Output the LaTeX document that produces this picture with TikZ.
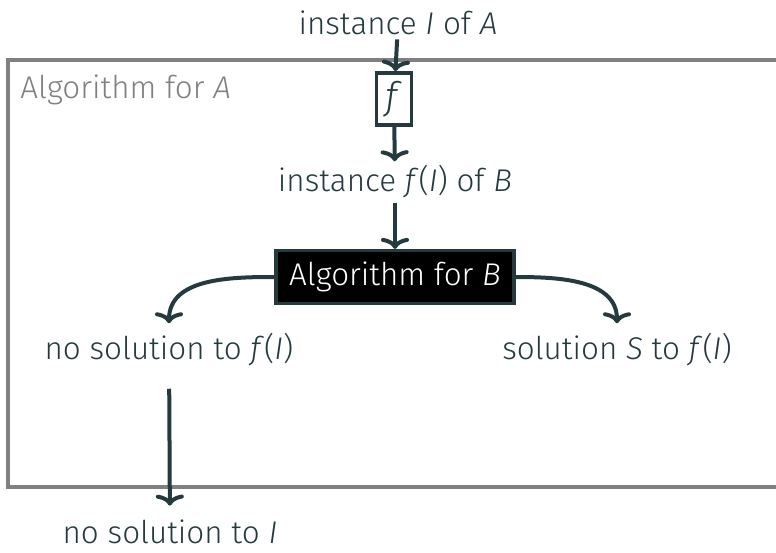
\documentclass[tikz,border=0pt]{standalone}
\usepackage{fontspec}
\setmainfont{Fira Sans}[UprightFont={* Light}, ItalicFont={* Light Italic}]
\usetikzlibrary{arrows.meta, positioning}
\definecolor{inkslate}{RGB}{36,58,63}
\definecolor{framegray}{RGB}{128,128,128}
\tikzset{
  lbl/.style={text=inkslate, font=\fontsize{15.7}{18}\selectfont, inner sep=2pt},
  fbox/.style={draw=inkslate, line width=1.8pt, text=inkslate,
    minimum width=17.5pt, minimum height=26pt, inner sep=0pt,
    font=\fontsize{19}{21}\selectfont},
  algbox/.style={draw=inkslate, line width=1.6pt, fill=black, text=white,
    minimum width=119pt, minimum height=26.5pt, inner sep=0pt,
    font=\fontsize{15.7}{18}\selectfont},
  flow/.style={-{To[length=5.5pt, width=14pt]}, line width=2pt, inkslate},
}

\begin{document}
\begin{tikzpicture}[x=0.5pt, y=-0.5pt]
\useasboundingbox (0,0) rectangle (776,552);
\clip (0,0) rectangle (776,552);

% outer frame
\draw[framegray, line width=2pt] (790,60) -- (8,60) -- (8,487) -- (790,487);
\node[text=framegray, font=\fontsize{15.7}{18}\selectfont, anchor=west, inner sep=0pt]
  (algA) at (20,90) {Algorithm for \textit{A}};

% nodes
\node[lbl] (inst) at (398,23) {instance \textit{I} of \textit{A}};
\node[fbox] (f) at (394,99) {\textit{f}};
\node[lbl] (instf) at (395,182) {instance \textit{f}(\textit{I}) of \textit{B}};
\node[algbox] (algB) at (395,277) {Algorithm for \textit{B}};
\node[lbl] (nosol) at (169,350) {no solution to \textit{f}(\textit{I})};
\node[lbl] (sol) at (617,350) {solution \textit{S} to \textit{f}(\textit{I})};
\node[lbl] (noI) at (170,532) {no solution to \textit{I}};

% connectors
\draw[flow] (inst) -- (f);
\draw[flow] (f) -- (instf);
\draw[flow] (instf) -- (algB);
\draw[flow] (algB.west) to[out=180, in=90] ([yshift=3pt]nosol.north);
\draw[flow] (algB.east) to[out=0, in=90] ([yshift=3pt]sol.north);
\draw[flow, shorten <=9pt, shorten >=5pt] (nosol) -- (noI);

\end{tikzpicture}
\end{document}
